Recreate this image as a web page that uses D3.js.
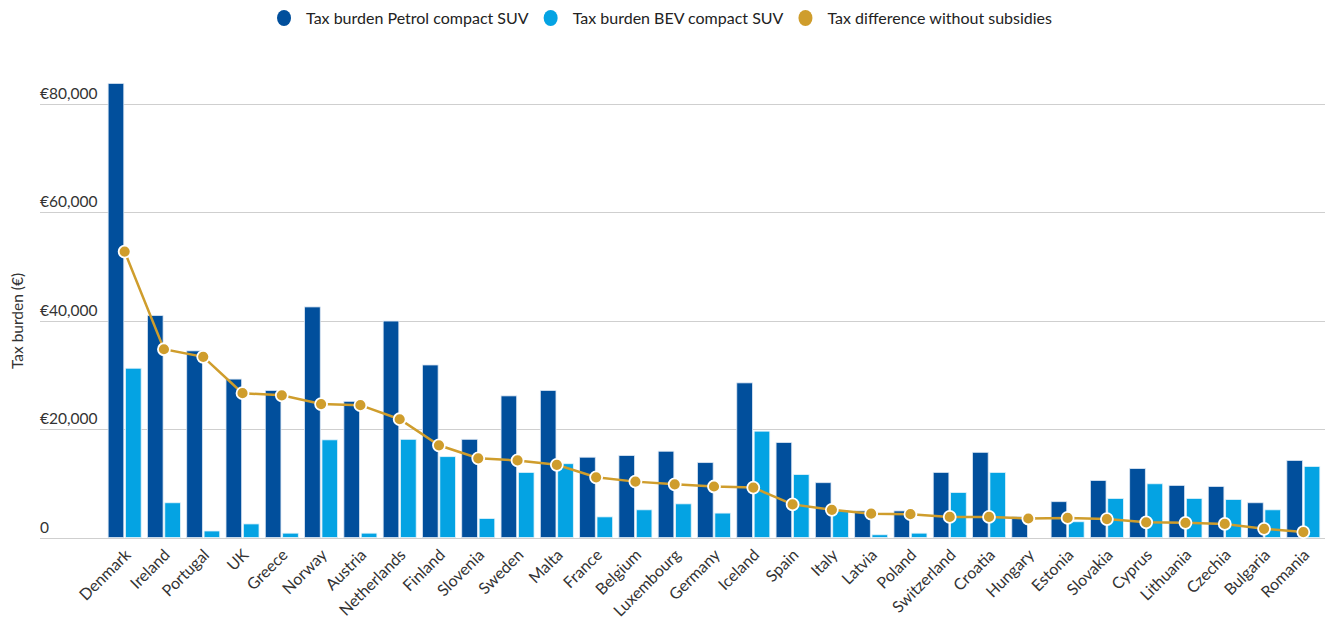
<!DOCTYPE html>
<html>
<head>
<meta charset="utf-8">
<script src="https://cdn.jsdelivr.net/npm/d3@7"></script>
<style>
    body { margin: 0; background: #fff; }
    text { font-family: Lato, "Open Sans", sans-serif; fill: #222; }
</style>
</head>
<body>
<svg id="chart" width="1329" height="623"></svg>
<script>
const countries = ["Denmark", "Ireland", "Portugal", "UK", "Greece", "Norway", "Austria", "Netherlands",
    "Finland", "Slovenia", "Sweden", "Malta", "France", "Belgium", "Luxembourg", "Germany", "Iceland",
    "Spain", "Italy", "Latvia", "Poland", "Switzerland", "Croatia", "Hungary", "Estonia", "Slovakia",
    "Cyprus", "Lithuania", "Czechia", "Bulgaria", "Romania"];

const petrolBurden = [83700, 40900, 34400, 29200, 27100, 42500, 25100, 39900,
    31800, 18100, 26100, 27100, 14800, 15100, 15900, 13800, 28500,
    17500, 10100, 4900, 4900, 12000, 15700, 3800, 6600, 10500,
    12700, 9600, 9400, 6400, 14200];

const bevBurden = [31200, 6400, 1200, 2500, 800, 18000, 800, 18100,
    14900, 3500, 12000, 13600, 3800, 5100, 6200, 4500, 19600,
    11600, 5000, 500, 800, 8300, 12000, 0, 2900, 7200,
    9900, 7200, 7000, 5100, 13100];

const taxDifference = [52700, 34700, 33300, 26600, 26200, 24600, 24400, 21800,
    17000, 14600, 14200, 13400, 11100, 10300, 9800, 9400, 9200,
    6100, 5100, 4400, 4300, 3800, 3800, 3500, 3600, 3400,
    2800, 2700, 2500, 1600, 1000];

const yTicks = [0, 20000, 40000, 60000, 80000];

const seriesNames = ["Tax burden Petrol compact SUV", "Tax burden BEV compact SUV", "Tax difference without subsidies"];
const colors = ["#014f9c", "#04a3e3", "#cf9d2c"];

const svg = d3.select("#chart");

// scales
let x = d3.scaleBand()
    .domain(countries)
    .range([105, 1323])
    .paddingInner(0.16)
    .paddingOuter(0.08);

let x1 = d3.scaleBand()
    .domain(["petrol", "bev"])
    .range([0, x.bandwidth()])
    .paddingInner(0.1);

let y = d3.scaleLinear()
    .domain([0, 80000])
    .range([537.5, 103.5]);

// gridlines + labels
let grid = svg.append("g").attr("class", "grid");
grid.selectAll("line")
    .data(yTicks)
    .enter()
    .append("line")
    .attr("x1", 40)
    .attr("x2", 1325)
    .attr("y1", d => Math.round(y(d)) + 0.5)
    .attr("y2", d => Math.round(y(d)) + 0.5)
    .attr("stroke", "#cfcfcf")
    .attr("stroke-width", 1.2);

grid.selectAll("text")
    .data(yTicks)
    .enter()
    .append("text")
    .attr("x", 40)
    .attr("y", d => y(d) - 5)
    .style("font-size", "15.5px")
    .style("fill", "#333")
    .text(d => d === 0 ? "0" : "€" + d3.format(",")(d));

svg.append("text")
    .attr("transform", "translate(23,321) rotate(-90)")
    .attr("text-anchor", "middle")
    .style("font-size", "15.5px")
    .style("fill", "#333")
    .text("Tax burden (€)");

// bars
let rows = countries.map((c, i) => ({country: c, petrol: petrolBurden[i], bev: bevBurden[i], diff: taxDifference[i]}));

let groups = svg.append("g")
    .selectAll("g")
    .data(rows)
    .enter()
    .append("g")
    .attr("transform", d => `translate(${x(d.country)},0)`);

groups.append("rect")
    .attr("x", x1("petrol"))
    .attr("width", x1.bandwidth())
    .attr("y", d => y(d.petrol))
    .attr("height", d => y(0) - y(d.petrol))
    .attr("fill", colors[0])
    .attr("stroke", "#dbe6f3")
    .attr("stroke-width", 0.8);

groups.filter(d => d.bev > 0).append("rect")
    .attr("x", x1("bev"))
    .attr("width", x1.bandwidth())
    .attr("y", d => y(d.bev))
    .attr("height", d => y(0) - y(d.bev))
    .attr("fill", colors[1])
    .attr("stroke", "#e2f3fb")
    .attr("stroke-width", 0.8);

// difference line
let line = d3.line()
    .x(d => x(d.country) + x.bandwidth() / 2)
    .y(d => y(d.diff));

svg.append("path")
    .datum(rows)
    .attr("d", line)
    .attr("fill", "none")
    .attr("stroke", colors[2])
    .attr("stroke-width", 2.5);

svg.append("g")
    .selectAll("circle")
    .data(rows)
    .enter()
    .append("circle")
    .attr("cx", d => x(d.country) + x.bandwidth() / 2)
    .attr("cy", d => y(d.diff))
    .attr("r", 6)
    .attr("fill", colors[2])
    .attr("stroke", "#fff")
    .attr("stroke-width", 1.8);

// x labels
svg.append("g")
    .selectAll("text")
    .data(countries)
    .enter()
    .append("text")
    .attr("text-anchor", "end")
    .attr("transform", d => `translate(${x(d) + x.bandwidth() / 2 + 7},${556}) rotate(-45)`)
    .style("font-size", "16px")
    .style("fill", "#333")
    .text(d => d);

// legend, centred
let legend = svg.append("g").attr("class", "legend");
let items = legend.selectAll("g")
    .data(seriesNames)
    .enter()
    .append("g");

items.append("ellipse")
    .attr("rx", 7)
    .attr("ry", 8)
    .attr("cy", 18)
    .attr("fill", (d, i) => colors[i]);

items.append("text")
    .attr("x", 22)
    .attr("y", 23.5)
    .style("font-size", "16px")
    .text(d => d);

let offset = 0;
items.each(function () {
    let g = d3.select(this);
    g.attr("transform", `translate(${offset},0)`);
    offset += 22 + g.select("text").node().getComputedTextLength() + 22;
});
let legendWidth = offset - 22 + 7;
legend.attr("transform", `translate(${(1329 - legendWidth) / 2 + 7},0)`);
</script>
</body>
</html>
